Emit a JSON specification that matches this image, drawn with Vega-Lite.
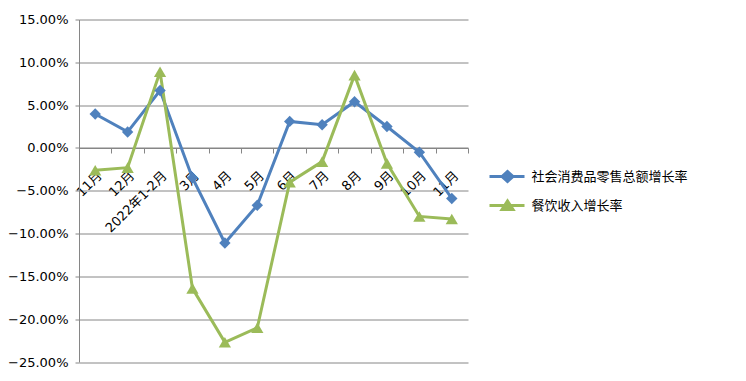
{
  "$schema": "https://vega.github.io/schema/vega-lite/v6.json",
  "width": 389,
  "height": 342.5,
  "autosize": "none",
  "padding": {"left": 79, "top": 19.5, "right": 278, "bottom": 19},
  "background": "white",
  "config": {"view": {"stroke": null}},
  "data": {"values": [
    {"p": "01|11月", "s": "社会消费品零售总额增长率", "v": 0.0397},
    {"p": "02|12月", "s": "社会消费品零售总额增长率", "v": 0.0187},
    {"p": "03|2022年1-2月", "s": "社会消费品零售总额增长率", "v": 0.067},
    {"p": "04|3月", "s": "社会消费品零售总额增长率", "v": -0.035},
    {"p": "05|4月", "s": "社会消费品零售总额增长率", "v": -0.111},
    {"p": "06|5月", "s": "社会消费品零售总额增长率", "v": -0.067},
    {"p": "07|6月", "s": "社会消费品零售总额增长率", "v": 0.031},
    {"p": "08|7月", "s": "社会消费品零售总额增长率", "v": 0.027},
    {"p": "09|8月", "s": "社会消费品零售总额增长率", "v": 0.054},
    {"p": "10|9月", "s": "社会消费品零售总额增长率", "v": 0.025},
    {"p": "11|10月", "s": "社会消费品零售总额增长率", "v": -0.005},
    {"p": "12|11月", "s": "社会消费品零售总额增长率", "v": -0.059},
    {"p": "01|11月", "s": "餐饮收入增长率", "v": -0.026},
    {"p": "02|12月", "s": "餐饮收入增长率", "v": -0.023},
    {"p": "03|2022年1-2月", "s": "餐饮收入增长率", "v": 0.089},
    {"p": "04|3月", "s": "餐饮收入增长率", "v": -0.164},
    {"p": "05|4月", "s": "餐饮收入增长率", "v": -0.227},
    {"p": "06|5月", "s": "餐饮收入增长率", "v": -0.21},
    {"p": "07|6月", "s": "餐饮收入增长率", "v": -0.04},
    {"p": "08|7月", "s": "餐饮收入增长率", "v": -0.016},
    {"p": "09|8月", "s": "餐饮收入增长率", "v": 0.085},
    {"p": "10|9月", "s": "餐饮收入增长率", "v": -0.018},
    {"p": "11|10月", "s": "餐饮收入增长率", "v": -0.08},
    {"p": "12|11月", "s": "餐饮收入增长率", "v": -0.083}
  ]},
  "encoding": {
    "x": {
      "field": "p", "type": "nominal", "sort": null, "bandPosition": 0.5,
      "scale": {"type": "band", "paddingInner": 0, "paddingOuter": 0},
      "axis": {
        "title": null, "offset": -214, "labelAngle": -45, "tickBand": "extent",
        "labelExpr": "split(datum.value, '|')[1]",
        "domainColor": "#868686", "tickColor": "#868686", "tickSize": 5,
        "labelFont": "DejaVu Sans, Noto Sans CJK SC", "labelFontSize": 13, "labelColor": "#000000",
        "labelPadding": 16, "labelDx": -4
      }
    },
    "y": {
      "field": "v", "type": "quantitative",
      "scale": {"domain": [-0.25, 0.15], "nice": false, "zero": false},
      "axis": {
        "title": null, "format": ".2%",
        "values": [-0.25, -0.2, -0.15, -0.1, -0.05, 0, 0.05, 0.1, 0.15],
        "gridColor": "#868686", "domainColor": "#868686", "tickColor": "#868686", "tickSize": 4,
        "labelFont": "DejaVu Sans", "labelFontSize": 13, "labelColor": "#000000", "labelPadding": 7
      }
    },
    "color": {
      "field": "s", "type": "nominal", "sort": null,
      "scale": {"domain": ["社会消费品零售总额增长率", "餐饮收入增长率"], "range": ["#4F81BD", "#9BBB59"]},
      "legend": {
        "title": null, "orient": "none", "legendX": 416.5, "legendY": 145.5, "padding": 0,
        "symbolSize": 400, "symbolStrokeWidth": 3, "labelOffset": 13, "rowPadding": 6,
        "labelFont": "Noto Sans CJK SC", "labelFontSize": 13, "labelColor": "#000000",
        "encode": {"symbols": {"update": {
          "shape": {"signal": "datum.value === '社会消费品零售总额增长率' ? 'M-1.75,0H1.75M-0.5,0L0.05,-0.5L0.6,0L0.05,0.5Z' : 'M-1.75,0H1.75M-0.5,0.4L0.05,-0.45L0.6,0.4Z'"},
          "fill": {"signal": "datum.value === '社会消费品零售总额增长率' ? '#4F81BD' : '#9BBB59'"},
          "stroke": {"signal": "datum.value === '社会消费品零售总额增长率' ? '#4F81BD' : '#9BBB59'"},
          "opacity": {"value": 1}
        }}}
      }
    }
  },
  "layer": [
    {"mark": {"type": "line", "strokeWidth": 3}},
    {
      "transform": [{"filter": "datum.s === '社会消费品零售总额增长率'"}],
      "mark": {"type": "point", "filled": true, "opacity": 1, "shape": "diamond", "size": 130}
    },
    {
      "transform": [{"filter": "datum.s === '餐饮收入增长率'"}],
      "mark": {"type": "point", "filled": true, "opacity": 1, "shape": "triangle-up", "size": 150}
    }
  ]
}
